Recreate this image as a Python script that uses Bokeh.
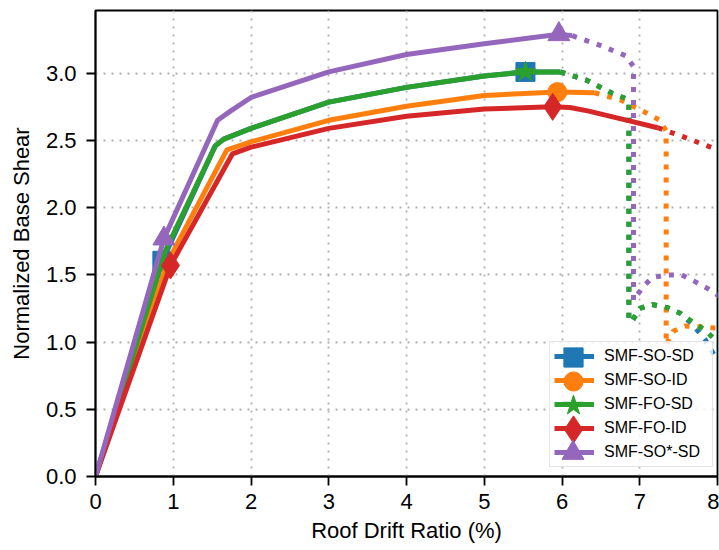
from bokeh.plotting import figure
from bokeh.models import Range1d, Legend, LegendItem, FixedTicker, PrintfTickFormatter
from bokeh.embed import file_html
from bokeh.resources import INLINE

# ---------------- data ----------------
x_ticks = [0, 1, 2, 3, 4, 5, 6, 7, 8]
y_ticks = [0.0, 0.5, 1.0, 1.5, 2.0, 2.5, 3.0]

series_labels = ["SMF-SO-SD", "SMF-SO-ID", "SMF-FO-SD", "SMF-FO-ID", "SMF-SO*-SD"]

# SMF-SO-SD
so_sd_solid_x = [0.0, 0.86, 1.54, 1.65, 2.0, 3.0, 4.0, 5.0, 5.53, 5.98]
so_sd_solid_y = [0.0, 1.605, 2.46, 2.51, 2.59, 2.785, 2.895, 2.98, 3.01, 3.01]
so_sd_dot_x = [5.98, 6.31, 6.65, 6.83, 6.86, 6.86, 6.90, 7.0, 7.16, 7.36, 7.52, 7.68, 7.84, 8.0]
so_sd_dot_y = [3.01, 2.95, 2.85, 2.81, 2.78, 1.16, 1.155, 1.25, 1.28, 1.255, 1.215, 1.13, 1.02, 0.86]
so_sd_mark_x = [0.86, 5.53]
so_sd_mark_y = [1.605, 3.01]

# SMF-SO-ID
so_id_solid_x = [0.0, 0.93, 1.69, 2.0, 3.0, 4.0, 5.0, 5.94, 6.42]
so_id_solid_y = [0.0, 1.60, 2.43, 2.49, 2.65, 2.755, 2.835, 2.86, 2.855]
so_id_dot_x = [6.42, 6.76, 7.10, 7.26, 7.34, 7.34, 7.43, 7.58, 7.77, 7.96, 8.10]
so_id_dot_y = [2.855, 2.80, 2.70, 2.65, 2.57, 0.98, 1.08, 1.12, 1.115, 1.105, 1.10]
so_id_mark_x = [5.94]
so_id_mark_y = [2.86]

# SMF-FO-SD
fo_sd_solid_x = [0.0, 0.90, 1.54, 1.65, 2.0, 3.0, 4.0, 5.0, 5.53, 5.98]
fo_sd_solid_y = [0.0, 1.68, 2.46, 2.51, 2.59, 2.785, 2.895, 2.98, 3.01, 3.01]
fo_sd_dot_x = [5.98, 6.31, 6.65, 6.83, 6.86, 6.86, 6.90, 7.0, 7.16, 7.36, 7.52, 7.68, 7.84, 8.0]
fo_sd_dot_y = [3.01, 2.95, 2.85, 2.81, 2.78, 1.16, 1.155, 1.25, 1.28, 1.255, 1.215, 1.15, 1.09, 1.00]
fo_sd_mark_x = [5.53]
fo_sd_mark_y = [3.01]

# SMF-FO-ID
fo_id_solid_x = [0.0, 0.965, 1.76, 2.0, 3.0, 4.0, 5.0, 5.88, 6.10, 6.33, 6.84, 7.23]
fo_id_solid_y = [0.0, 1.57, 2.40, 2.45, 2.59, 2.68, 2.735, 2.75, 2.745, 2.72, 2.65, 2.595]
fo_id_dot_x = [7.23, 7.50, 7.80, 8.10]
fo_id_dot_y = [2.595, 2.54, 2.475, 2.41]
fo_id_mark_x = [0.965, 5.88]
fo_id_mark_y = [1.57, 2.75]

# SMF-SO*-SD
sos_sd_solid_x = [0.0, 0.88, 1.57, 1.74, 2.0, 3.0, 4.0, 5.0, 5.96, 6.13]
sos_sd_solid_y = [0.0, 1.77, 2.65, 2.72, 2.82, 3.01, 3.14, 3.22, 3.29, 3.28]
sos_sd_dot_x = [6.13, 6.48, 6.82, 6.92, 6.92, 7.04, 7.16, 7.36, 7.54, 7.71, 7.87, 8.05]
sos_sd_dot_y = [3.28, 3.21, 3.13, 3.05, 1.31, 1.41, 1.48, 1.50, 1.50, 1.45, 1.40, 1.33]
sos_sd_mark_x = [0.88, 5.96]
sos_sd_mark_y = [1.77, 3.29]

series_data = [
    (so_sd_solid_x, so_sd_solid_y, so_sd_dot_x, so_sd_dot_y, so_sd_mark_x, so_sd_mark_y),
    (so_id_solid_x, so_id_solid_y, so_id_dot_x, so_id_dot_y, so_id_mark_x, so_id_mark_y),
    (fo_sd_solid_x, fo_sd_solid_y, fo_sd_dot_x, fo_sd_dot_y, fo_sd_mark_x, fo_sd_mark_y),
    (fo_id_solid_x, fo_id_solid_y, fo_id_dot_x, fo_id_dot_y, fo_id_mark_x, fo_id_mark_y),
    (sos_sd_solid_x, sos_sd_solid_y, sos_sd_dot_x, sos_sd_dot_y, sos_sd_mark_x, sos_sd_mark_y),
]

# ---------------- styles ----------------
colors = ["#1f77b4", "#ff7f0e", "#2ca02c", "#d62728", "#9467bd"]
marker_types = ["square", "circle", "star", "diamond", "triangle"]
marker_sizes = [19, 19, 21, 27, 22]
FONT = "Liberation Sans"

p = figure(width=719, height=550, output_backend="svg", toolbar_location=None,
           x_range=Range1d(0, 8), y_range=Range1d(0, 3.467),
           min_border_left=95, min_border_right=2, min_border_top=10, min_border_bottom=74)

p.background_fill_color = "white"
p.border_fill_color = "white"
p.outline_line_color = "black"
p.outline_line_width = 1.8

p.xaxis.ticker = FixedTicker(ticks=x_ticks)
p.yaxis.ticker = FixedTicker(ticks=y_ticks)
p.yaxis.formatter = PrintfTickFormatter(format="%.1f")
p.xaxis.axis_label = "Roof Drift Ratio (%)"
p.yaxis.axis_label = "Normalized Base Shear"
for ax in (p.xaxis, p.yaxis):
    ax.axis_line_color = "black"
    ax.axis_line_width = 1.8
    ax.major_tick_line_color = "black"
    ax.major_tick_line_width = 1.8
    ax.major_tick_in = 0
    ax.major_tick_out = 9
    ax.minor_tick_line_color = None
    ax.major_label_text_font = FONT
    ax.major_label_text_font_size = "22px"
    ax.major_label_text_color = "black"
    ax.axis_label_text_font = FONT
    ax.axis_label_text_font_size = "22px"
    ax.axis_label_text_font_style = "normal"
    ax.axis_label_text_color = "black"
p.xaxis.major_label_standoff = 8
p.yaxis.major_label_standoff = 10
p.xaxis.axis_label_standoff = 6
p.yaxis.axis_label_standoff = 9

p.xgrid.ticker = FixedTicker(ticks=x_ticks)
p.ygrid.ticker = FixedTicker(ticks=y_ticks)
for g in (p.xgrid, p.ygrid):
    g.grid_line_color = "#b0b0b0"
    g.grid_line_width = 1.8
    g.grid_line_dash = "2 6"

solid_renderers = []
marker_renderers = []
for (sx, sy, dx, dy, mx, my), c, mk, ms in zip(series_data, colors, marker_types, marker_sizes):
    r_solid = p.line(sx, sy, line_color=c, line_width=5, line_join="round", line_cap="butt")
    p.line(dx, dy, line_color=c, line_width=5, line_dash="5 8", line_cap="butt")
    r_mark = p.scatter(mx, my, marker=mk, size=ms, fill_color=c, line_color=c, line_width=1)
    solid_renderers.append(r_solid)
    marker_renderers.append(r_mark)

# main legend: box, labels and lines
legend_main = Legend(
    items=[LegendItem(label=l, renderers=[r]) for l, r in zip(series_labels, solid_renderers)],
    location=(454, 9),
    glyph_width=40, glyph_height=20, label_height=20, spacing=4, padding=4,
    label_standoff=10, label_width=104,
    label_text_font=FONT, label_text_font_size="16px", label_text_color="black",
    border_line_color="#cccccc", border_line_width=1.2,
    background_fill_color="white", background_fill_alpha=0.8,
)
p.add_layout(legend_main)

# marker overlays for the legend (one small legend per entry)
for i, (r, ms) in enumerate(zip(marker_renderers, marker_sizes)):
    box = int(round(ms / 0.4))
    cy = 343 + 4 + 10 + 24 * i
    leg = Legend(
        items=[LegendItem(label=" ", renderers=[r])],
        location=(int(478 - box / 2), int(476 - cy - box / 2)),
        glyph_width=box, glyph_height=box, label_height=1, padding=0, spacing=0,
        label_standoff=0, label_width=0, label_text_font_size="1px",
        border_line_color=None, background_fill_alpha=0,
    )
    p.add_layout(leg)

open("out.html", "w").write(file_html(p, INLINE))
